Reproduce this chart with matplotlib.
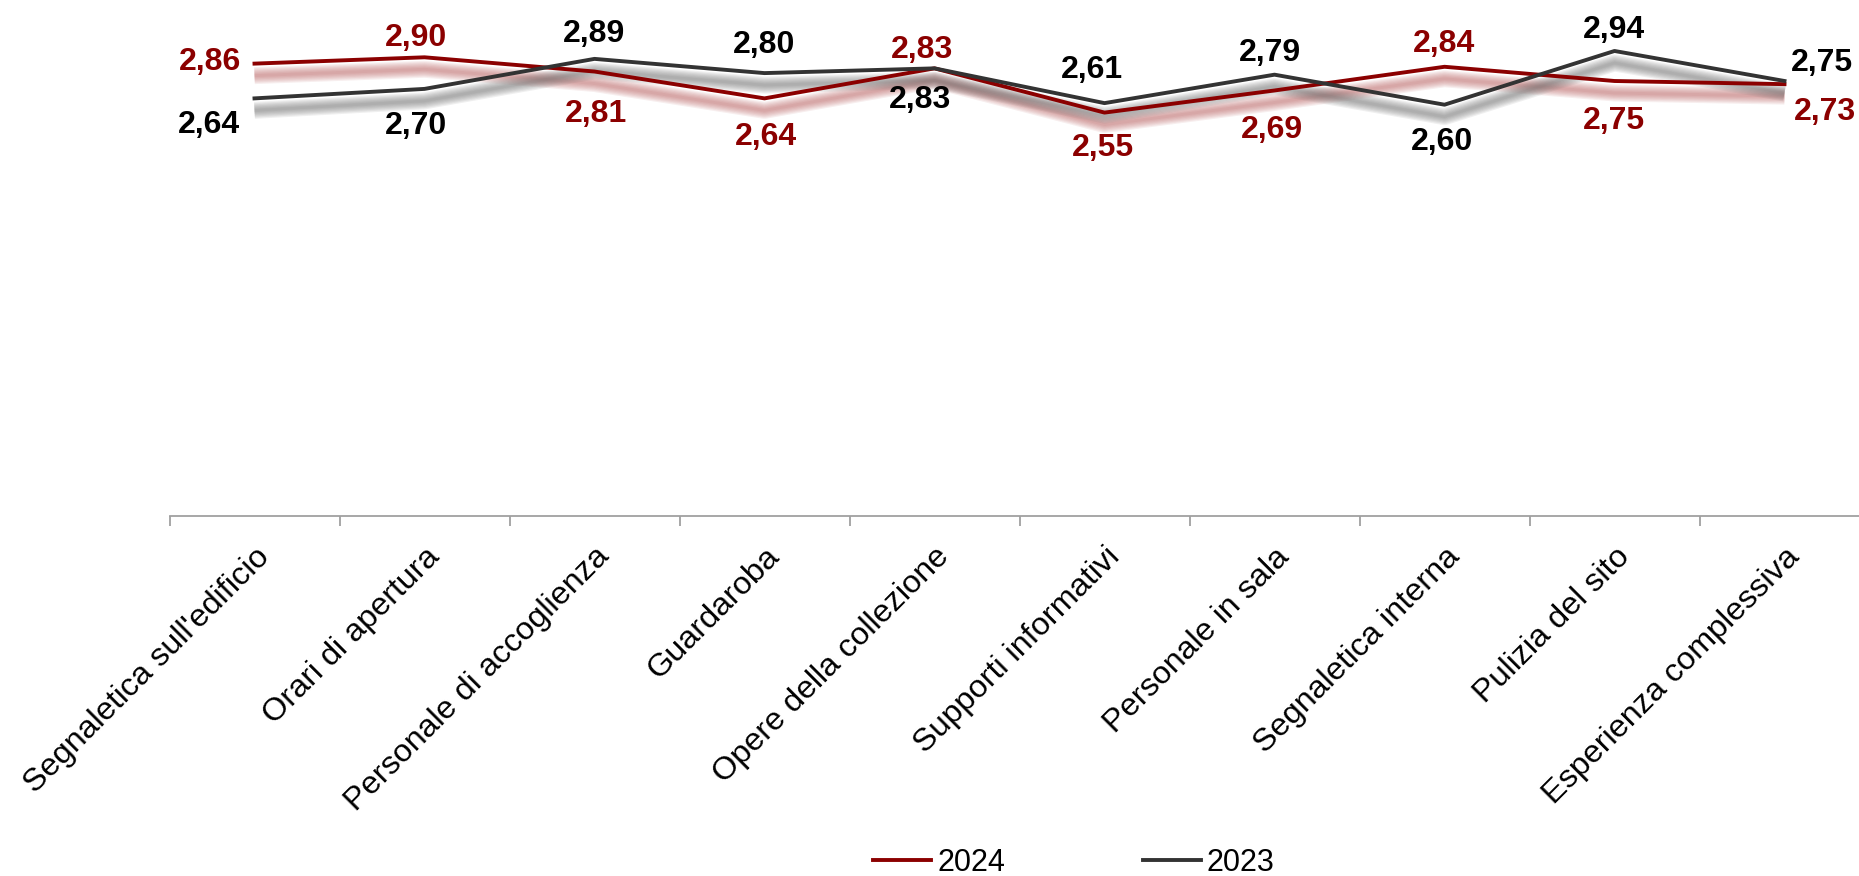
import matplotlib as mpl
import matplotlib.pyplot as plt
import matplotlib.transforms as mtransforms

mpl.rcParams.update({'font.family': ['Liberation Sans', 'DejaVu Sans']})

categories = ["Segnaletica sull'edificio", 'Orari di apertura', 'Personale di accoglienza',
              'Guardaroba', 'Opere della collezione', 'Supporti informativi',
              'Personale in sala', 'Segnaletica interna', 'Pulizia del sito',
              'Esperienza complessiva']
v2024 = [2.86, 2.90, 2.81, 2.64, 2.83, 2.55, 2.69, 2.84, 2.75, 2.73]
v2023 = [2.64, 2.70, 2.89, 2.80, 2.83, 2.61, 2.79, 2.60, 2.94, 2.75]

# label offsets in pixels (dx, dy)
off2024 = [(-44, 2), (-8, 19), (1, -42), (1, -39), (-13, 18), (-2, -35),
           (-3, -40), (-1, 23), (-1, -40), (40, -28)]
off2023 = [(-46, -27), (-8, -37), (0, 25), (0, 28), (-15, -32), (-13, 33),
           (-5, 22), (-2, -37), (-1, 21), (37, 18)]

red = '#8b0000'
dark = '#333333'

fig = plt.figure(figsize=(18.59, 8.76), dpi=100)
ax = fig.add_axes([169.5/1859, (876-515.5)/876, 1700/1859, 515.5/876])
x = list(range(len(categories)))

# blurred drop shadows
shadow = mtransforms.offset_copy(ax.transData, fig=fig, x=0, y=-12, units='dots')
for vals, col in [(v2024, '#b85c5c'), (v2023, '#6a6a6a')]:
    for k in range(7):
        ax.plot(x, vals, color=col, lw=2 + 1.7*k, alpha=0.1,
                solid_capstyle='butt', solid_joinstyle='round',
                transform=shadow, zorder=1)

ax.plot(x, v2024, color=red, lw=2.8, label='2024', zorder=3,
        solid_joinstyle='round')
ax.plot(x, v2023, color=dark, lw=2.8, label='2023', zorder=4,
        solid_joinstyle='round')

for vals, offs, col in [(v2024, off2024, red), (v2023, off2023, 'black')]:
    for i, v in enumerate(vals):
        ax.annotate(f'{v:.2f}'.replace('.', ','), (i, v), xytext=offs[i],
                    textcoords='offset pixels', ha='center', va='center',
                    fontsize=23, fontweight='bold', color=col, zorder=5)

ax.set_xlim(-0.5, 9.5)
ax.set_ylim(0, 515.5/158)
for s in ['top', 'right', 'left']:
    ax.spines[s].set_visible(False)
ax.spines['bottom'].set_color('#a0a0a0')
ax.spines['bottom'].set_linewidth(1.3)
ax.set_yticks([])
ax.set_xticks([i - 0.5 for i in range(len(categories) + 1)])
ax.set_xticklabels([])
ax.tick_params(axis='x', which='major', length=7, width=1.3, color='#a0a0a0')
ax.set_xticks(x, minor=True)
ax.set_xticklabels(categories, minor=True, rotation=45, ha='right', va='top',
                   rotation_mode='anchor', fontsize=23.3)
ax.tick_params(axis='x', which='minor', length=0, pad=19)

fig.legend(loc='center', bbox_to_anchor=(1074/1859, 1 - 863/876), ncol=2,
           frameon=False, fontsize=22, handlelength=1.9, handletextpad=0.2,
           columnspacing=4.5)

fig.savefig('out.png', dpi=100)
